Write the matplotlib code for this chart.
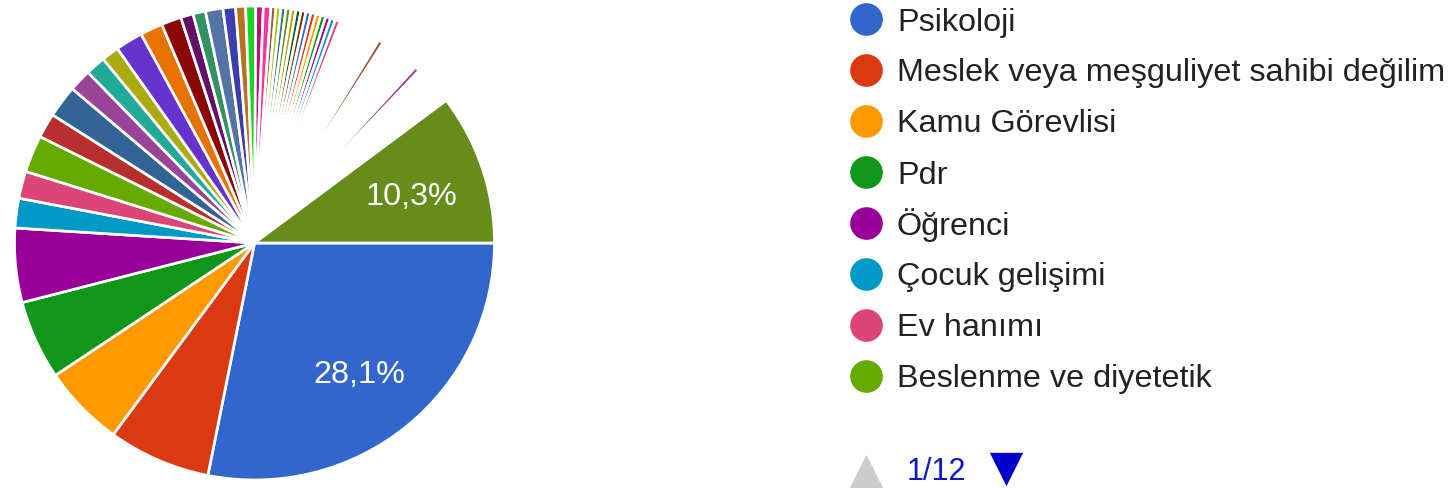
import matplotlib.pyplot as plt

# legend entries shown on the first page
legend_labels = ["Psikoloji", "Meslek veya meşguliyet sahibi değilim", "Kamu Görevlisi", "Pdr",
                 "Öğrenci", "Çocuk gelişimi", "Ev hanımı", "Beslenme ve diyetetik"]
page_text = "1/12"

# answer counts for all 90 occupations, in chart order
counts = [167, 41, 33, 32, 30, 12, 11, 15, 10, 13, 9, 8, 7, 11, 9, 8, 5, 5, 7, 5, 4, 4, 3, 3,
          2, 2, 2, 2, 2, 2, 2, 2, 2, 2, 2, 2, 2, 2,
          1, 1, 1, 1, 1, 1, 1, 1, 1, 1, 1, 1, 1, 1, 1, 1, 1,
          2,
          1, 1, 1, 1, 1, 1, 1, 1, 1, 1, 1, 1, 1, 1, 1, 1,
          2,
          1, 1, 1, 1, 1, 1, 1, 1, 1, 1, 1, 1, 1, 1, 1, 1,
          61]

google_colors = ["#3366cc", "#dc3912", "#ff9900", "#109618", "#990099", "#0099c6", "#dd4477",
                 "#66aa00", "#b82e2e", "#316395", "#994499", "#22aa99", "#aaaa11", "#6633cc",
                 "#e67300", "#8b0707", "#651067", "#329262", "#5574a6", "#3b3eac", "#b77322",
                 "#16d620", "#b91383", "#f4359e", "#9c5935", "#a9c413", "#2a778d", "#668d1c",
                 "#bea413", "#0c5922", "#743411"]
colors = [google_colors[i % len(google_colors)] for i in range(len(counts))]

W, H = 1453, 488
fig = plt.figure(figsize=(W / 100, H / 100), dpi=100)
plt.rcParams['font.family'] = ['Liberation Sans', 'DejaVu Sans']

# pie axes sized around the pie's pixel box
cx, cy, rx, ry = 254.5, 243, 240, 237
pad = 1.05
ax = fig.add_axes([(cx - rx * pad) / W, (H - cy - ry * pad) / H, 2 * rx * pad / W, 2 * ry * pad / H])


def pct_text(p):
    return f"{p:.1f}%".replace(".", ",") if p >= 10 else ""


wedges, texts, autotexts = ax.pie(counts, colors=colors, startangle=0, counterclock=False,
                                  autopct=pct_text, pctdistance=0.69,
                                  wedgeprops=dict(edgecolor="white", linewidth=1.95, joinstyle="round"),
                                  textprops=dict(color="white", fontsize=23.3))
# sit the percentages on their baseline so the digits are centred on the anchor
for t in autotexts:
    x, y = t.get_position()
    t.set_position((x, y - 14 / ry))
    t.set_va("baseline")

ax.set_aspect("auto")
ax.set_xlim(-pad, pad)
ax.set_ylim(-pad, pad)
ax.axis("off")

# legend and pager, in pixel coordinates
lg = fig.add_axes([0, 0, 1, 1])
lg.set_xlim(0, W)
lg.set_ylim(H, 0)
lg.axis("off")
lg.patch.set_alpha(0)

for i, name in enumerate(legend_labels):
    y = 18.5 + 51 * i
    lg.scatter([866], [y], s=23.5 ** 2, color=colors[i], marker="o", linewidths=0)
    lg.text(897, y + 12, name, fontsize=23.3, color="#222222", va="baseline", ha="left")

lg.scatter([866], [471], s=24 ** 2, marker="^", color="#cccccc", linewidths=0)
lg.text(907, 479.5, page_text, fontsize=22, color="#0c18c8", va="baseline", ha="left")
lg.scatter([1005.5], [469], s=24 ** 2, marker="v", color="#0000cc", linewidths=0)

fig.savefig("out.png", dpi=100)
